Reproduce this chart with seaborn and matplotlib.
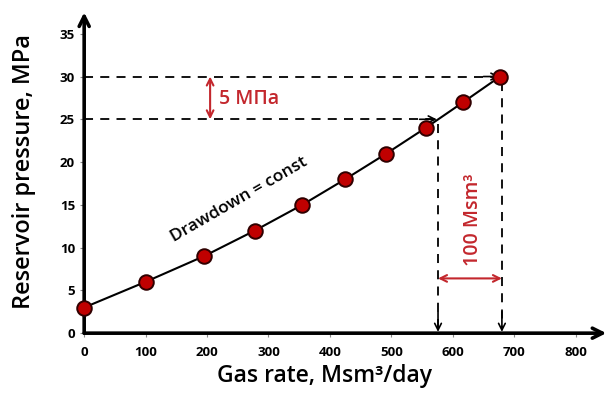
import seaborn as sns
import matplotlib.pyplot as plt

# data
gas_rate = [0, 100, 195, 278, 355, 425, 492, 556, 617, 677]
pressure = [3, 6, 9, 12, 15, 18, 21, 24, 27, 30]

x_ticks = [0, 100, 200, 300, 400, 500, 600, 700, 800]
y_ticks = [0, 5, 10, 15, 20, 25, 30, 35]

# guide lines
p_high, p_low = 30, 25
q_high, q_low = 680, 576

red = '#c3272d'

sns.set_style('white')
plt.rcParams['font.family'] = ['Open Sans', 'DejaVu Sans']
plt.rcParams['text.color'] = 'black'
plt.rcParams['axes.labelcolor'] = 'black'
plt.rcParams['xtick.color'] = 'black'
plt.rcParams['ytick.color'] = 'black'

fig = plt.figure(figsize=(6.1, 3.99), dpi=100)
ax = fig.add_axes([0.138, 0.165, 0.856, 0.804])

sns.lineplot(x=gas_rate, y=pressure, color='black', lw=1.5, ax=ax)
sns.scatterplot(x=gas_rate, y=pressure, color='#c00000', edgecolor='#300000',
                linewidth=1.4, s=110, zorder=5, clip_on=False, ax=ax)

ax.set_xlim(0, 850)
ax.set_ylim(0, 37.5)
ax.set_xticks(x_ticks)
ax.set_yticks(y_ticks)
ax.tick_params(axis='both', labelsize=9.5, length=3, width=0.8, color='#888888',
               direction='out', bottom=True, left=True)
for lab in ax.get_xticklabels() + ax.get_yticklabels():
    lab.set_fontweight('bold')
ax.tick_params(axis='x', pad=6)

for s in ax.spines.values():
    s.set_visible(False)

# axes with arrow heads
ax.annotate('', xy=(1.0, 0), xytext=(0, 0), xycoords='axes fraction',
            arrowprops=dict(arrowstyle='->', lw=2.6, color='black',
                            shrinkA=0, shrinkB=0, mutation_scale=18), annotation_clip=False)
ax.annotate('', xy=(0, 1.0), xytext=(0, 0), xycoords='axes fraction',
            arrowprops=dict(arrowstyle='->', lw=2.6, color='black',
                            shrinkA=0, shrinkB=0, mutation_scale=18), annotation_clip=False)

ax.set_xlabel('Gas rate, Msm³/day', fontsize=16.5, fontweight='semibold')
ax.set_ylabel('Reservoir pressure, MPa', fontsize=17, fontweight='semibold')
ax.xaxis.set_label_coords(0.46, -0.096)
ax.yaxis.set_label_coords(-0.092, 0.505)

# dashed guides
dash = dict(color='black', lw=1.3, ls=(0, (5, 4)))
ax.plot([0, q_high - 4], [p_high, p_high], **dash)
ax.plot([0, q_low - 4], [p_low, p_low], **dash)
ax.plot([q_high, q_high], [p_high - 0.6, 0.4], **dash)
ax.plot([q_low, q_low], [p_low - 0.6, 0.4], **dash)
head = dict(arrowstyle='->', lw=1.2, color='black', shrinkA=0, shrinkB=0, mutation_scale=12)
ax.annotate('', xy=(q_high - 4, p_high), xytext=(q_high - 30, p_high), arrowprops=head)
ax.annotate('', xy=(q_low - 2, p_low), xytext=(q_low - 30, p_low), arrowprops=head)
ax.annotate('', xy=(q_high, 0.15), xytext=(q_high, 2.5), arrowprops=head)
ax.annotate('', xy=(q_low, 0.15), xytext=(q_low, 2.5), arrowprops=head)

# red dimension arrows
dim = dict(arrowstyle='<->', lw=1.5, color=red, shrinkA=0, shrinkB=0, mutation_scale=12)
ax.annotate('', xy=(205, p_high), xytext=(205, p_low), arrowprops=dim)
ax.text(220, 27.4, '5 МПа', color=red, fontsize=14, fontweight='semibold',
        va='center', ha='left')
ax.annotate('', xy=(q_low, 6.4), xytext=(q_high, 6.4), arrowprops=dim)
ax.text(633, 13.2, '100 Msm³', color=red, fontsize=14, fontweight='semibold',
        rotation=90, va='center', ha='center')

ax.text(252, 15.6, 'Drawdown = const', fontsize=12.5, fontweight='semibold',
        rotation=30, ha='center', va='center')

fig.savefig('out.png', dpi=100)
